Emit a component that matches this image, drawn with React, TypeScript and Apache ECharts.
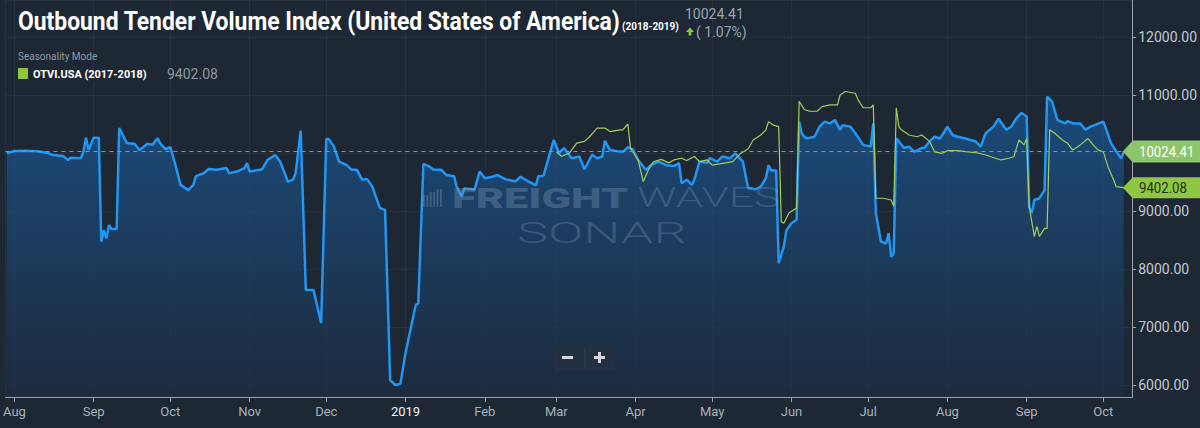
import React, { useEffect, useRef } from "react";
import * as echarts from "echarts";

const DAY = 86400000;
const BASE = new Date(2018, 7, 1).getTime(); // day 0 = 2018-08-01

const monthNames = ["Jan", "Feb", "Mar", "Apr", "May", "Jun", "Jul", "Aug", "Sep", "Oct", "Nov", "Dec"];

// OTVI.USA 2018-2019 (blue) — day offsets from 2018-08-01
const blueDays = [
  -3, 0, 4, 9, 13, 15, 19, 21, 22, 26, 27, 28, 29, 31, 33, 34, 35, 36, 37, 38, 40, 41, 42, 44, 47, 49, 52, 54, 56, 57,
  59, 61, 63, 65, 68, 70, 71, 74, 76, 79, 83, 84, 87, 90, 91, 92, 96, 97, 99, 102, 104, 107, 109, 110, 112, 114, 117,
  120, 122, 123, 125, 127, 130, 132, 134, 136, 138, 140, 143, 145, 147, 149, 151, 153, 157, 158, 160, 162, 164, 167,
  169, 172, 173, 175, 176, 180, 182, 184, 187, 189, 192, 196, 198, 201, 204, 205, 207, 211, 213, 215, 218, 221, 223,
  226, 228, 230, 231, 233, 236, 238, 240, 242, 244, 247, 249, 252, 255, 258, 260, 261, 263, 265, 266, 268, 271, 272,
  275, 277, 280, 282, 285, 287, 290, 292, 294, 295, 296, 298, 299, 301, 302, 304, 306, 307, 308, 309, 310, 313, 315,
  317, 319, 321, 323, 324, 327, 329, 332, 335, 336, 337, 339, 341, 342, 343, 344, 345, 346, 348, 350, 352, 355, 356,
  358, 360, 362, 363, 365, 367, 369, 372, 374, 376, 378, 380, 383, 385, 388, 390, 392, 394, 396, 397, 398, 399, 401,
  403, 404, 406, 408, 411, 412, 414, 417, 419, 421, 426, 427, 429, 431, 433, 434,
];
const blueValues = [
  9995, 10034, 10040, 10030, 10000, 9965, 9950, 9880, 9920, 9910, 10020, 10265, 10050, 10265, 10265, 8470, 8670, 8530,
  8760, 8690, 8690, 10430, 10345, 10170, 10160, 10050, 10160, 10140, 10255, 10170, 10065, 10100, 9790, 9450, 9360, 9450,
  9600, 9650, 9725, 9710, 9740, 9650, 9680, 9740, 9825, 9680, 9710, 9725, 9880, 9965, 9850, 9505, 9540, 9650, 10385,
  7640, 7640, 7070, 10240, 10240, 10110, 9850, 9790, 9710, 9710, 9540, 9550, 9420, 9050, 9020, 6085, 6000, 6020, 6550,
  7380, 7410, 9810, 9775, 9710, 9710, 9620, 9600, 9420, 9250, 9390, 9370, 9680, 9565, 9590, 9620, 9550, 9510, 9590, 9510,
  9440, 9600, 9610, 10225, 10000, 10085, 9910, 9940, 9720, 9970, 9910, 9940, 10210, 10050, 10030, 10020, 10100, 10060,
  9880, 9710, 9790, 9850, 9790, 9775, 9825, 9480, 9540, 9450, 9540, 9850, 9830, 9910, 9850, 9940, 9910, 9995, 9850, 9395,
  9375, 9420, 9570, 9790, 9700, 9700, 8100, 8390, 8670, 8790, 8850, 10540, 10340, 10280, 10250, 10280, 10455, 10540,
  10510, 10570, 10400, 10480, 10455, 10340, 10140, 10110, 10510, 8965, 8470, 8440, 8620, 8210, 8270, 10255, 10200, 10085,
  10110, 10020, 10085, 10085, 10200, 10280, 10250, 10310, 10455, 10310, 10280, 10250, 10225, 10200, 10110, 10340, 10455,
  10590, 10400, 10455, 10600, 10690, 10630, 9070, 8965, 9190, 9220, 9360, 10970, 10880, 10570, 10510, 10550, 10510,
  10510, 10400, 10455, 10540, 10420, 10170, 10030, 9910, 10024.41,
];

// OTVI.USA 2017-2018 seasonality (green) — day offsets from 2018-08-01
const greenDays = [
  212, 214, 217, 220, 223, 225, 228, 231, 233, 237, 238, 240, 241, 244, 246, 248, 250, 253, 256, 258, 261, 263, 266,
  268, 271, 273, 277, 281, 284, 287, 289, 292, 294, 295, 297, 299, 300, 301, 303, 306, 307, 309, 311, 314, 316, 319,
  322, 323, 325, 329, 330, 332, 335, 336, 337, 340, 343, 344, 345, 346, 347, 350, 353, 355, 358, 360, 363, 365, 369,
  373, 377, 380, 382, 386, 389, 391, 393, 395, 396, 397, 399, 400, 401, 403, 404, 405, 407, 410, 412, 414, 417, 420,
  422, 424, 426, 428, 430, 431, 434,
];
const greenValues = [
  10020, 9945, 9995, 10170, 10200, 10280, 10430, 10430, 10370, 10400, 10400, 10500, 10085, 9880, 9505, 9710, 9850, 9890,
  9830, 9880, 9910, 9870, 9940, 9850, 9880, 9790, 9820, 9850, 9990, 10070, 10225, 10310, 10400, 10540, 10480, 10455,
  8815, 8790, 8965, 9050, 10890, 10750, 10720, 10720, 10800, 10830, 10830, 11000, 11060, 11030, 10920, 10780, 10780,
  10830, 9220, 9220, 9190, 9080, 10780, 10455, 10400, 10310, 10280, 10310, 10200, 10020, 9995, 10040, 10040, 10020,
  10000, 9965, 9935, 9880, 9910, 9935, 10225, 10140, 10250, 9070, 8560, 8735, 8560, 8700, 8700, 10400, 10340, 10225,
  10170, 10050, 10140, 10250, 10140, 10050, 10020, 9740, 9540, 9420, 9402.08,
];

// right-axis labels that are visible (10000.00 sits under the value tag in the reference)
const yLabelValues = [6000, 7000, 8000, 9000, 11000, 12000];

const currentValue = 10024.41;
const priorValue = 9402.08;
const changePct = "1.07%";

const toTime = (d: number) => BASE + d * DAY;

export default function App() {
  const ref = useRef<HTMLDivElement>(null);

  useEffect(() => {
    document.body.style.margin = "0";
    document.body.style.background = "#1e2834";
    const chart = echarts.init(ref.current!, undefined, { renderer: "svg" });

    const blueData = blueDays.map((d, i) => [toTime(d), blueValues[i]]);
    const greenData = greenDays.map((d, i) => [toTime(d), greenValues[i]]);

    const axisColor = "#9aa1a9";
    const gridColor = "rgba(255,255,255,0.045)";

    chart.setOption({
      animation: false,
      backgroundColor: "#1e2834",
      textStyle: { fontFamily: "Roboto" },
      grid: { left: 0, right: 65, top: 0, bottom: 31 },
      xAxis: {
        type: "time",
        min: toTime(-3.5),
        max: toTime(437.3),
        splitNumber: 15,
        minInterval: 28 * DAY,
        maxInterval: 31 * DAY,
        axisLine: { show: true, lineStyle: { color: axisColor } },
        axisTick: { show: true, length: 5, lineStyle: { color: axisColor } },
        splitLine: { show: true, lineStyle: { color: gridColor } },
        axisLabel: {
          color: "#aab1b9",
          fontSize: 13,
          margin: 8,
          hideOverlap: false,
          formatter: (v: number) => {
            const d = new Date(v);
            if (d.getDate() !== 1) return "";
            return d.getMonth() === 0 ? "{y|" + d.getFullYear() + "}" : monthNames[d.getMonth()];
          },
          rich: { y: { color: "#eef1f4", fontSize: 13, fontFamily: "Roboto" } },
        },
      },
      yAxis: {
        type: "value",
        position: "right",
        min: 5793,
        max: 12638,
        splitNumber: 7,
        axisLine: { show: true, lineStyle: { color: axisColor } },
        axisTick: { show: true, length: 4, lineStyle: { color: axisColor } },
        splitLine: { show: true, lineStyle: { color: gridColor } },
        axisLabel: {
          color: "#c3c8cd",
          fontSize: 14,
          margin: 6,
          showMinLabel: false,
          showMaxLabel: false,
          formatter: (v: number) => (yLabelValues.indexOf(v) >= 0 ? v.toFixed(2) : ""),
        },
      },
      series: [
        {
          type: "line",
          name: "OTVI.USA (2018-2019)",
          data: blueData,
          symbol: "none",
          showSymbol: false,
          z: 3,
          lineStyle: { color: "#2196f3", width: 2.5 },
          areaStyle: {
            color: new echarts.graphic.LinearGradient(0, 0, 0, 1, [
              { offset: 0, color: "#1a5a9a" },
              { offset: 1, color: "#1c2c42" },
            ]),
          },
          markLine: {
            silent: true,
            symbol: ["none", "none"],
            label: { show: false },
            lineStyle: { color: "#8d949c", type: [4, 4], width: 1 },
            data: [{ yAxis: currentValue }],
          },
        },
        {
          type: "line",
          name: "OTVI.USA (2017-2018)",
          data: greenData,
          symbol: "none",
          showSymbol: false,
          z: 4,
          lineStyle: { color: "#a2cd5a", width: 1.2 },
        },
      ],
    });

    const pb = chart.convertToPixel({ gridIndex: 0 }, blueData[blueData.length - 1]) as number[];
    const pg = chart.convertToPixel({ gridIndex: 0 }, greenData[greenData.length - 1]) as number[];
    const tag = (p: number[], h: number) => {
      const tip = p[0] - 1;
      const cy = p[1];
      return [
        [tip, cy],
        [tip + 10, cy - h / 2],
        [1200, cy - h / 2],
        [1200, cy + h / 2],
        [tip + 10, cy + h / 2],
      ];
    };

    const wmColor = "rgba(140,160,185,0.33)";
    const wmThin = "rgba(140,160,185,0.28)";
    const mid = { verticalAlign: "middle", textVerticalAlign: "middle" };

    chart.setOption({
      graphic: [
        // title
        {
          type: "text", x: 18, y: 21, scaleX: 0.88, z: 20,
          style: { text: "Outbound Tender Volume Index (United States of America)", fill: "#ffffff", fontSize: 26, fontWeight: "bold", fontFamily: "Roboto", ...mid },
        },
        {
          type: "text", x: 622, y: 26, z: 20,
          style: { text: "(2018-2019)", fill: "#ffffff", fontSize: 10, fontWeight: "bold", fontFamily: "Roboto", ...mid },
        },
        {
          type: "text", x: 685, y: 14, z: 20,
          style: { text: currentValue.toFixed(2), fill: "#9aa4ae", fontSize: 14, fontFamily: "Roboto", ...mid },
        },
        {
          type: "polygon", z: 20,
          shape: { points: [[686, 32], [690, 27.5], [694, 32], [691.4, 32], [691.4, 35.5], [688.6, 35.5], [688.6, 32]] },
          style: { fill: "#8dc63f" },
        },
        {
          type: "text", x: 696, y: 32, z: 20,
          style: { text: "( " + changePct + ")", fill: "#9aa4ae", fontSize: 14, fontFamily: "Roboto", ...mid },
        },
        // legend
        {
          type: "text", x: 18, y: 56, z: 20,
          style: { text: "Seasonality Mode", fill: "#8f99a3", fontSize: 10, fontFamily: "Roboto", ...mid },
        },
        { type: "rect", z: 20, shape: { x: 18, y: 68, width: 10, height: 11 }, style: { fill: "#8dc63f" } },
        {
          type: "text", x: 33, y: 74, scaleX: 0.95, z: 20,
          style: { text: "OTVI.USA (2017-2018)", fill: "#ffffff", fontSize: 11.5, fontWeight: "bold", fontFamily: "Roboto", ...mid },
        },
        {
          type: "text", x: 167, y: 74, z: 20,
          style: { text: priorValue.toFixed(2), fill: "#8e98a2", fontSize: 14, fontFamily: "Roboto", ...mid },
        },
        // watermark
        ...[0, 1, 2, 3, 4, 5].map((i) => ({
          type: "rect", z: 10,
          shape: { x: 423 + i * 3.4, y: 189 + (i < 2 ? 6 : i < 4 ? 3 : 0), width: 1.8, height: 18 - (i < 2 ? 6 : i < 4 ? 3 : 0) },
          style: { fill: wmColor },
        })),
        {
          type: "text", x: 452, y: 198, scaleX: 1.55, z: 10,
          style: { text: "FREIGHT", fill: wmColor, fontSize: 28, fontWeight: 900, fontFamily: "Roboto", ...mid },
        },
        {
          type: "text", x: 637, y: 198, scaleX: 1.58, z: 10,
          style: { text: "WAVES", fill: wmThin, fontSize: 28, fontWeight: 300, fontFamily: "Roboto", ...mid },
        },
        {
          type: "text", x: 517, y: 233, scaleX: 1.8, z: 10,
          style: { text: "SONAR", fill: wmThin, fontSize: 29, fontWeight: 300, fontFamily: "Roboto", ...mid },
        },
        // zoom control
        { type: "rect", z: 20, shape: { x: 554, y: 345, width: 61, height: 26, r: 2 }, style: { fill: "#233042" } },
        { type: "line", z: 21, shape: { x1: 584.5, y1: 348, x2: 584.5, y2: 368 }, style: { stroke: "#2d3b4e", lineWidth: 1 } },
        { type: "rect", z: 21, shape: { x: 562, y: 356, width: 11, height: 3 }, style: { fill: "#d3d8de" } },
        { type: "rect", z: 21, shape: { x: 594, y: 356, width: 11, height: 3 }, style: { fill: "#d3d8de" } },
        { type: "rect", z: 21, shape: { x: 598, y: 352, width: 3, height: 11 }, style: { fill: "#d3d8de" } },
        // end tags
        { type: "polygon", z: 30, shape: { points: tag(pb, 22) }, style: { fill: "#8cc56a" } },
        {
          type: "text", x: 1139, y: pb[1], scaleX: 0.88, z: 31,
          style: { text: currentValue.toFixed(2), fill: "#ffffff", fontSize: 15, fontFamily: "Roboto", ...mid },
        },
        { type: "polygon", z: 30, shape: { points: tag(pg, 21) }, style: { fill: "#8fc743" } },
        {
          type: "text", x: 1139, y: pg[1], scaleX: 0.88, z: 31,
          style: { text: priorValue.toFixed(2), fill: "#25321a", fontSize: 15, fontFamily: "Roboto", ...mid },
        },
      ],
    });

    return () => chart.dispose();
  }, []);

  return <div ref={ref} style={{ width: 1200, height: 428 }} />;
}
